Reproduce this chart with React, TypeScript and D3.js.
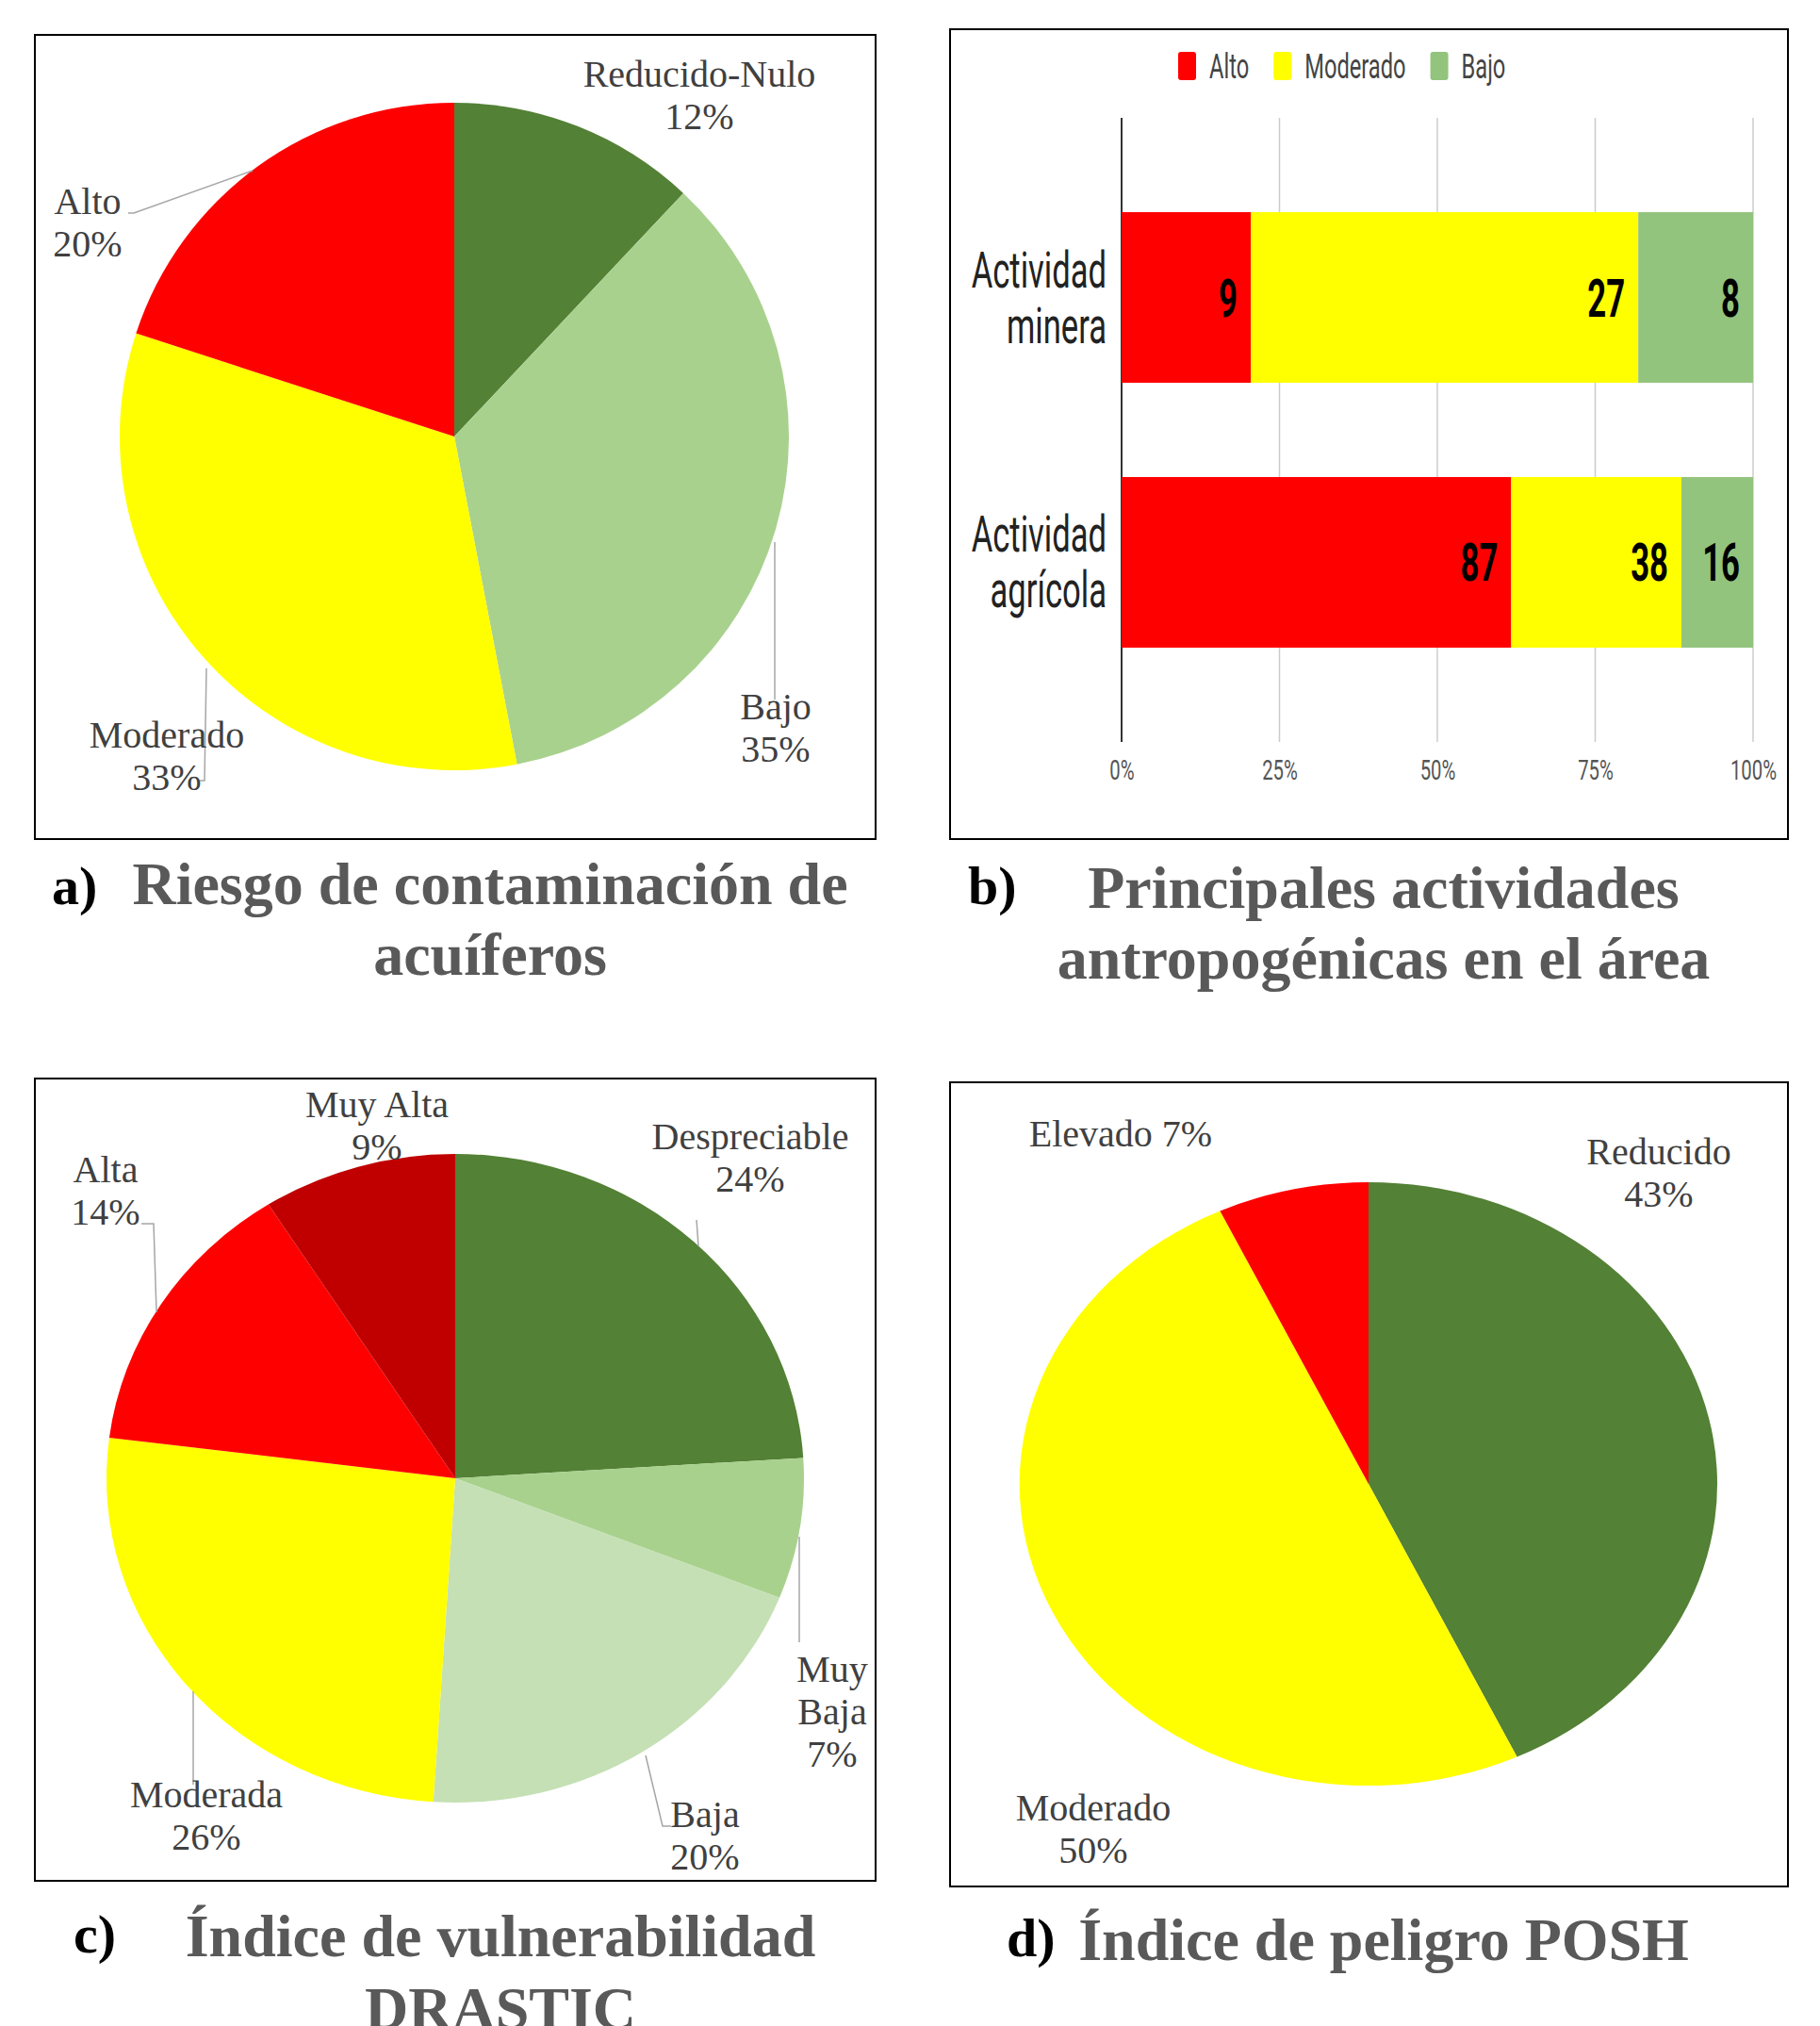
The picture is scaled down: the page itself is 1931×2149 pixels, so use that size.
import React, { useEffect, useRef } from 'react';
import * as d3 from 'd3';

const W = 1931;
const H = 2149;

// a) Riesgo de contaminación de acuíferos
const riesgoLabels = ['Reducido-Nulo', 'Bajo', 'Moderado', 'Alto'];
const riesgoValues = [12, 35, 33, 20];
const riesgoColors = ['#538135', '#A9D18E', '#FFFF00', '#FF0000'];

// b) Principales actividades antropogénicas
const actividades = ['Actividad minera', 'Actividad agrícola'];
const nivelKeys = ['Alto', 'Moderado', 'Bajo'];
const nivelColors = ['#FF0000', '#FFFF00', '#93C47D'];
const mineraValues = [9, 27, 8];
const agricolaValues = [87, 38, 16];
const pctTicks = [0, 0.25, 0.5, 0.75, 1];

// c) Índice de vulnerabilidad DRASTIC
const drasticLabels = ['Despreciable', 'Muy Baja', 'Baja', 'Moderada', 'Alta', 'Muy Alta'];
const drasticValues = [24, 7, 20, 26, 14, 9];
const drasticColors = ['#538135', '#A9D18E', '#C5E0B4', '#FFFF00', '#FF0000', '#C00000'];

// d) Índice de peligro POSH
const poshLabels = ['Reducido', 'Moderado', 'Elevado'];
const poshValues = [43, 50, 7];
const poshColors = ['#538135', '#FFFF00', '#FF0000'];

const SERIF = '"Liberation Serif", "Times New Roman", serif';
const SANS = 'Roboto, "Liberation Sans", sans-serif';

type PieCfg = {
  cx: number; cy: number; rx: number; ry: number;
  labels: string[]; values: number[]; colors: string[];
  labelPos: [number, number][];
  labelLines: (name: string, v: number) => string[];
  leaders: [number, number][][];
};

function drawPie(svg: d3.Selection<SVGSVGElement, unknown, null, undefined>, cfg: PieCfg) {
  const pie = d3.pie<number>().sort(null).value(d => d);
  const arc = d3.arc<d3.PieArcDatum<number>>().innerRadius(0).outerRadius(cfg.rx);
  const g = svg.append('g')
    .attr('transform', `translate(${cfg.cx},${cfg.cy}) scale(1,${cfg.ry / cfg.rx})`);
  g.selectAll('path')
    .data(pie(cfg.values))
    .enter()
    .append('path')
    .attr('d', arc)
    .attr('fill', (d, i) => cfg.colors[i]);

  // leader lines
  cfg.leaders.forEach(pts => {
    svg.append('polyline')
      .attr('points', pts.map(p => p.join(',')).join(' '))
      .attr('fill', 'none')
      .attr('stroke', '#A6A6A6')
      .attr('stroke-width', 1.5);
  });

  cfg.labels.forEach((name, i) => {
    const [x, y] = cfg.labelPos[i];
    const t = svg.append('text')
      .attr('x', x)
      .attr('y', y)
      .attr('text-anchor', 'middle')
      .style('font-family', SERIF)
      .style('font-size', '40px')
      .style('fill', '#404040');
    cfg.labelLines(name, cfg.values[i]).forEach((line, j) => {
      t.append('tspan').attr('x', x).attr('dy', j === 0 ? 0 : 45).text(line);
    });
  });
}

function drawBox(svg: d3.Selection<SVGSVGElement, unknown, null, undefined>, x0: number, y0: number, x1: number, y1: number) {
  svg.append('rect')
    .attr('x', x0).attr('y', y0)
    .attr('width', x1 - x0).attr('height', y1 - y0)
    .attr('fill', 'none')
    .attr('stroke', '#000')
    .attr('stroke-width', 2);
}

function drawTitle(svg: d3.Selection<SVGSVGElement, unknown, null, undefined>, tag: string, tagX: number, tagY: number, lines: string[], cx: number, ys: number[]) {
  svg.append('text')
    .attr('x', tagX).attr('y', tagY)
    .style('font-family', SERIF)
    .style('font-weight', 'bold')
    .style('font-size', '58px')
    .style('fill', '#000')
    .text(tag);
  lines.forEach((line, i) => {
    svg.append('text')
      .attr('x', cx).attr('y', ys[i])
      .attr('text-anchor', 'middle')
      .style('font-family', SERIF)
      .style('font-weight', 'bold')
      .style('font-size', '64px')
      .style('fill', '#595959')
      .text(line);
  });
}

const App: React.FC = () => {
  const svgRef = useRef<SVGSVGElement>(null);

  useEffect(() => {
    if (!svgRef.current) return;
    const svg = d3.select(svgRef.current);
    svg.selectAll('*').remove();

    svg.append('rect').attr('width', W).attr('height', H).attr('fill', '#fff');

    const stack = (name: string, v: number) => [name, `${v}%`];

    // ---------- a) ----------
    drawBox(svg, 37, 37, 929, 890);
    drawPie(svg, {
      cx: 482, cy: 463, rx: 355, ry: 354,
      labels: riesgoLabels, values: riesgoValues, colors: riesgoColors,
      labelPos: [[742, 92], [823, 763], [177, 793], [93, 227]],
      labelLines: stack,
      leaders: [
        [[822, 575], [822, 742]],
        [[219, 709], [217, 828], [212, 828]],
        [[136, 226], [142, 226], [268, 181]],
      ],
    });
    drawTitle(svg, 'a)', 55, 959, ['Riesgo de contaminación de', 'acuíferos'], 520, [959, 1034]);

    // ---------- b) ----------
    drawBox(svg, 1008, 31, 1897, 890);
    const x0 = 1190, x1 = 1860, yTop = 125, yBot = 787;
    const xScale = d3.scaleLinear().domain([0, 1]).range([x0, x1]);
    const yScale = d3.scaleBand<string>().domain(actividades).range([yTop, yBot]).padding(0.356);
    const SX = 0.62;

    // gridlines
    svg.append('g')
      .selectAll('line')
      .data(pctTicks)
      .enter()
      .append('line')
      .attr('x1', d => xScale(d)).attr('x2', d => xScale(d))
      .attr('y1', yTop).attr('y2', yBot)
      .attr('stroke', d => (d === 0 ? '#333' : '#CCCCCC'))
      .attr('stroke-width', d => (d === 0 ? 2 : 1.5));

    const rows = [mineraValues, agricolaValues];
    rows.forEach((vals, r) => {
      const total = d3.sum(vals);
      let acc = 0;
      const y = yScale(actividades[r]) as number;
      const bh = yScale.bandwidth();
      vals.forEach((v, k) => {
        const a = acc / total;
        acc += v;
        const b = acc / total;
        svg.append('rect')
          .attr('x', xScale(a))
          .attr('y', y)
          .attr('width', xScale(b) - xScale(a))
          .attr('height', bh)
          .attr('fill', nivelColors[k]);
        svg.append('text')
          .attr('transform', `translate(${xScale(b) - 14},${y + bh / 2 + 20}) scale(${SX},1)`)
          .attr('text-anchor', 'end')
          .style('font-family', SANS)
          .style('font-weight', 'bold')
          .style('font-size', '56px')
          .style('fill', '#000')
          .text(v);
      });
      // category label
      const words = actividades[r].split(' ');
      words.forEach((w, j) => {
        svg.append('text')
          .attr('transform', `translate(1174,${y + bh / 2 - 11 + j * 59}) scale(0.64,1)`)
          .attr('text-anchor', 'end')
          .style('font-family', SANS)
          .style('font-size', '54px')
          .style('fill', '#222')
          .text(w);
      });
    });

    // x axis
    const axis = svg.append('g')
      .attr('transform', `translate(0,${yBot + 16})`)
      .call(d3.axisBottom(xScale).tickValues(pctTicks).tickFormat(d3.format('.0%')).tickSize(0));
    axis.select('.domain').remove();
    axis.selectAll('text')
      .attr('transform', 'scale(0.7,1)')
      .style('font-family', SANS)
      .style('font-size', '29px')
      .style('fill', '#555');

    // legend
    const legend = svg.append('g').attr('transform', 'translate(1250,55)');
    let lx = 0;
    nivelKeys.forEach((k, i) => {
      legend.append('rect')
        .attr('x', lx).attr('y', 0)
        .attr('width', 19).attr('height', 30)
        .attr('rx', 3)
        .attr('fill', nivelColors[i]);
      const t = legend.append('text')
        .attr('transform', `translate(${lx + 33},28) scale(0.64,1)`)
        .style('font-family', SANS)
        .style('font-size', '37px')
        .style('fill', '#444')
        .text(k);
      const tw = (t.node() as SVGTextElement).getComputedTextLength() * 0.64;
      lx += 33 + tw + 26;
    });

    drawTitle(svg, 'b)', 1027, 959, ['Principales actividades', 'antropogénicas en el área'], 1468, [963, 1038]);

    // ---------- c) ----------
    drawBox(svg, 37, 1144, 929, 1995);
    drawPie(svg, {
      cx: 483, cy: 1568, rx: 370, ry: 344,
      labels: drasticLabels, values: drasticValues, colors: drasticColors,
      labelPos: [[796, 1219], [883, 1784], [748, 1938], [219, 1917], [112, 1254], [400, 1185]],
      labelLines: (name, v) => (name === 'Muy Baja' ? ['Muy', 'Baja', `${v}%`] : [name, `${v}%`]),
      leaders: [
        [[739, 1294], [741, 1322]],
        [[848, 1630], [848, 1742]],
        [[685, 1862], [703, 1937], [712, 1937]],
        [[205, 1794], [205, 1893]],
        [[150, 1298], [163, 1298], [166, 1392]],
      ],
    });
    drawTitle(svg, 'c)', 78, 2071, ['Índice de vulnerabilidad', 'DRASTIC'], 531, [2075, 2152]);

    // ---------- d) ----------
    drawBox(svg, 1008, 1148, 1897, 2001);
    drawPie(svg, {
      cx: 1452, cy: 1574, rx: 370, ry: 320,
      labels: poshLabels, values: poshValues, colors: poshColors,
      labelPos: [[1760, 1235], [1160, 1931], [1189, 1216]],
      labelLines: (name, v) => (name === 'Elevado' ? [`${name} ${v}%`] : [name, `${v}%`]),
      leaders: [],
    });
    drawTitle(svg, 'd)', 1068, 2075, ['Índice de peligro POSH'], 1468, [2079]);
  }, []);

  return (
    <svg
      ref={svgRef}
      width={W}
      height={H}
      style={{ position: 'absolute', left: 0, top: 0, display: 'block' }}
    />
  );
};

export default App;
